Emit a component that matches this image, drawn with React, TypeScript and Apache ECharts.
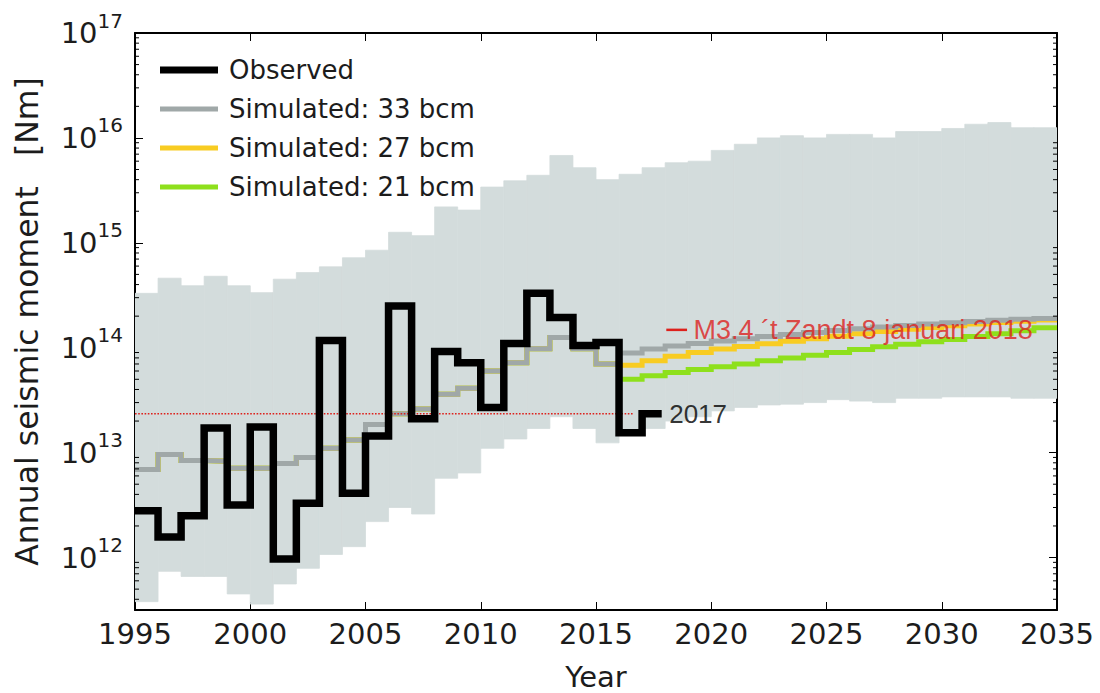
import React, { useEffect, useRef } from 'react';
import * as echarts from 'echarts';

// ---------- data ----------
const firstYear = 1995;
const lastYear = 2035;
const xTickStep = 5;

// envelope of the simulations, one value per yearly bin 1995..2034
const bandLower = [
  3.8e11, 7.4e11, 6.6e11, 6.6e11, 4.5e11, 3.6e11, 5.6e11, 7.9e11, 1.07e12, 1.27e12,
  2.2e12, 3.0e12, 2.6e12, 5.7e12, 6.4e12, 1.1e13, 1.35e13, 1.7e13, 2.2e13, 1.7e13,
  1.24e13, 1.5e13, 1.7e13, 2.0e13, 2.2e13, 2.5e13, 2.7e13, 2.85e13, 2.9e13, 3.0e13,
  3.2e13, 3.1e13, 3.0e13, 3.3e13, 3.3e13, 3.4e13, 3.4e13, 3.4e13, 3.3e13, 3.3e13,
];
const bandUpper = [
  3.3e14, 4.6e14, 3.9e14, 4.8e14, 3.9e14, 3.35e14, 4.5e14, 5.2e14, 5.9e14, 7.2e14,
  8.5e14, 1.26e15, 1.17e15, 2.2e15, 2.05e15, 3.4e15, 3.9e15, 4.4e15, 6.8e15, 5.2e15,
  4.0e15, 4.5e15, 5.2e15, 5.8e15, 6.0e15, 7.6e15, 8.7e15, 1.0e16, 1.05e16, 1.0e16,
  1.08e16, 1.08e16, 1.0e16, 1.15e16, 1.15e16, 1.23e16, 1.35e16, 1.4e16, 1.25e16, 1.25e16,
];

// observed annual seismic moment, bins 1995..2017
const observed = [
  2.8e12, 1.57e12, 2.5e12, 1.72e13, 3.16e12, 1.76e13, 9.7e11, 3.3e12, 1.17e14, 4.1e12,
  1.44e13, 2.5e14, 2.1e13, 9.2e13, 7.2e13, 2.7e13, 1.1e14, 3.3e14, 1.94e14, 1.05e14,
  1.12e14, 1.55e13, 2.35e13,
];
const observedEnd = 2017.85;
const observedEndLabel = '2017';

// simulated 33 bcm, bins 1995..2034
const sim33 = [
  6.9e12, 9.6e12, 8.4e12, 8.3e12, 7.1e12, 7.1e12, 7.9e12, 9.0e12, 1.1e13, 1.32e13,
  1.85e13, 2.35e13, 2.6e13, 3.6e13, 4.1e13, 6.0e13, 7.2e13, 9.8e13, 1.25e14, 9.8e13,
  7.0e13, 8.9e13, 9.7e13, 1.04e14, 1.1e14, 1.16e14, 1.22e14, 1.28e14, 1.34e14, 1.4e14,
  1.46e14, 1.52e14, 1.58e14, 1.63e14, 1.68e14, 1.73e14, 1.78e14, 1.83e14, 1.87e14, 1.9e14,
];
const futureStart = 2016;
// simulated 27 and 21 bcm, bins 2016..2034 (before 2016 they follow the 33 bcm run)
const sim27Future = [
  6.8e13, 7.5e13, 8.3e13, 9.0e13, 9.7e13, 1.03e14, 1.09e14, 1.15e14, 1.22e14, 1.29e14,
  1.36e14, 1.43e14, 1.5e14, 1.56e14, 1.62e14, 1.68e14, 1.74e14, 1.79e14, 1.84e14,
];
const sim21Future = [
  5.0e13, 5.4e13, 5.8e13, 6.2e13, 6.6e13, 7.0e13, 7.5e13, 8.0e13, 8.5e13, 9.0e13,
  9.6e13, 1.02e14, 1.08e14, 1.14e14, 1.2e14, 1.28e14, 1.36e14, 1.45e14, 1.55e14,
];

// reference level (dotted red) and the 8 January 2018 event
const refLevel = 2.35e13;
const refLineEnd = 2016.65;
const quakeLevel = 1.48e14;
const quakeDashFrom = 2018.05;
const quakeDashTo = 2018.95;
const quakeText = 'M3.4 \u00B4t Zandt 8 januari 2018';

const seriesNames = ['Observed', 'Simulated: 33 bcm', 'Simulated: 27 bcm', 'Simulated: 21 bcm'];

// ---------- styling ----------
const axisFont = 'DejaVu Sans';
const noteFont = 'Liberation Sans';
const textColor = '#1c1c1c';
const bandColor = '#d3dcdc';
const grayColor = '#a0a8a8';
const yellowColor = '#f8cc22';
const greenColor = '#8ee01c';
const redColor = '#dd211c';

const yMin = Math.pow(10, 11.5);
const yMax = 1e17;

// legend bar icons (bar centred in a 58x14 box)
const thickBar = 'path://M0,0L58,0M0,3.5L58,3.5L58,10.5L0,10.5ZM0,14L58,14';
const thinBar = 'path://M0,0L58,0M0,4.5L58,4.5L58,9.5L0,9.5ZM0,14L58,14';

function stepPoints(start: number, values: number[], end?: number) {
  const pts: number[][] = [];
  values.forEach((v, i) => {
    const x0 = start + i;
    const x1 = i === values.length - 1 && end !== undefined ? end : x0 + 1;
    pts.push([x0, v], [x1, v]);
  });
  return pts;
}

const histLen = futureStart - firstYear;
const sim27 = sim33.slice(0, histLen).concat(sim27Future);
const sim21 = sim33.slice(0, histLen).concat(sim21Future);

const bandData = bandLower.map((lo, i) => [firstYear + i, lo, bandUpper[i]]);

// minor log ticks (axis furniture)
const minorTicks: number[] = [];
for (let e = 11; e <= 16; e++) {
  for (let k = 2; k <= 9; k++) {
    const v = k * Math.pow(10, e);
    if (v > yMin && v < yMax) minorTicks.push(v);
  }
}

function buildOption(): any {
  const xAxisBase = {
    type: 'value',
    min: firstYear,
    max: lastYear,
    interval: xTickStep,
    splitLine: { show: false },
    axisLine: { show: true, onZero: false, lineStyle: { color: '#000', width: 2 } },
    axisTick: { show: true, inside: true, length: 8, lineStyle: { color: '#000', width: 1 } },
  };
  const yAxisBase = {
    type: 'log',
    logBase: 10,
    min: yMin,
    max: yMax,
    splitLine: { show: false },
    axisLine: { show: true, onZero: false, lineStyle: { color: '#000', width: 2 } },
    axisTick: { show: true, inside: true, length: 8, lineStyle: { color: '#000', width: 1 } },
  };
  return {
    animation: false,
    backgroundColor: '#fff',
    grid: { left: 135, right: 43, top: 33, bottom: 83, containLabel: false, outerBoundsMode: 'none' },
    legend: {
      orient: 'vertical',
      left: 155,
      top: 51,
      itemWidth: 58,
      itemHeight: 14,
      itemGap: 11,
      selectedMode: false,
      itemStyle: { borderWidth: 0 },
      data: [
        { name: seriesNames[0], icon: thickBar, itemStyle: { color: '#000', borderWidth: 0 } },
        { name: seriesNames[1], icon: thinBar, itemStyle: { color: grayColor, borderWidth: 0 } },
        { name: seriesNames[2], icon: thinBar, itemStyle: { color: yellowColor, borderWidth: 0 } },
        { name: seriesNames[3], icon: thinBar, itemStyle: { color: greenColor, borderWidth: 0 } },
      ],
      textStyle: {
        fontFamily: axisFont,
        fontSize: 26,
        color: textColor,
        lineHeight: 28,
        padding: [0, 0, 0, 6],
      },
    },
    xAxis: [
      {
        ...xAxisBase,
        position: 'bottom',
        name: 'Year',
        nameLocation: 'middle',
        nameGap: 52,
        nameTextStyle: { fontFamily: axisFont, fontSize: 29, lineHeight: 30, color: textColor },
        axisLabel: {
          margin: 9,
          fontFamily: axisFont,
          fontSize: 29,
          color: textColor,
          formatter: (v: number) => String(v),
        },
      },
      {
        ...xAxisBase,
        position: 'top',
        axisLabel: { show: false },
      },
    ],
    yAxis: [
      {
        ...yAxisBase,
        position: 'left',
        name: 'Annual seismic moment   [Nm]',
        nameLocation: 'middle',
        nameGap: 92,
        nameTextStyle: { fontFamily: axisFont, fontSize: 31.5, color: textColor },
        axisLabel: {
          margin: 12,
          showMinLabel: false,
          color: textColor,
          formatter: (v: number) => '{b|10}{s|' + Math.round(Math.log10(v)) + '}',
          rich: {
            b: { fontFamily: axisFont, fontSize: 29, color: textColor, lineHeight: 45 },
            s: { fontFamily: axisFont, fontSize: 20, color: textColor, lineHeight: 20, verticalAlign: 'top' },
          },
        },
      },
      {
        ...yAxisBase,
        position: 'right',
        axisLabel: { show: false },
      },
    ],
    series: [
      {
        type: 'custom',
        name: 'envelope',
        silent: true,
        clip: true,
        z: 1,
        data: bandData,
        encode: { x: 0, y: [1, 2] },
        renderItem: (params: any, api: any) => {
          const x = api.value(0);
          const lo = api.value(1);
          const hi = api.value(2);
          const a = api.coord([x, hi]);
          const b = api.coord([x + 1, lo]);
          return {
            type: 'rect',
            shape: { x: a[0], y: a[1], width: b[0] - a[0], height: b[1] - a[1] },
            style: { fill: bandColor, stroke: bandColor, lineWidth: 0.8 },
          };
        },
      },
      {
        type: 'custom',
        name: 'minorTicks',
        silent: true,
        z: 10,
        data: minorTicks.map((v) => [firstYear, v]),
        encode: { x: 0, y: 1 },
        renderItem: (params: any, api: any) => {
          const v = api.value(1);
          const l = api.coord([firstYear, v]);
          const r = api.coord([lastYear, v]);
          return {
            type: 'group',
            children: [
              { type: 'line', shape: { x1: l[0], y1: l[1], x2: l[0] + 4, y2: l[1] }, style: { stroke: '#000', lineWidth: 1 } },
              { type: 'line', shape: { x1: r[0] - 4, y1: r[1], x2: r[0], y2: r[1] }, style: { stroke: '#000', lineWidth: 1 } },
            ],
          };
        },
      },
      {
        type: 'line',
        name: seriesNames[3],
        data: stepPoints(firstYear, sim21),
        showSymbol: false,
        symbol: 'none',
        z: 3,
        lineStyle: { color: greenColor, width: 5, join: 'miter', cap: 'butt' },
        itemStyle: { color: greenColor },
      },
      {
        type: 'line',
        name: seriesNames[2],
        data: stepPoints(firstYear, sim27),
        showSymbol: false,
        symbol: 'none',
        z: 4,
        lineStyle: { color: yellowColor, width: 5, join: 'miter', cap: 'butt' },
        itemStyle: { color: yellowColor },
      },
      {
        type: 'line',
        name: seriesNames[1],
        data: stepPoints(firstYear, sim33),
        showSymbol: false,
        symbol: 'none',
        z: 5,
        lineStyle: { color: grayColor, width: 5, join: 'miter', cap: 'butt' },
        itemStyle: { color: grayColor },
      },
      {
        type: 'line',
        name: 'reference level',
        data: [[firstYear, refLevel], [refLineEnd, refLevel]],
        showSymbol: false,
        symbol: 'none',
        silent: true,
        z: 6,
        lineStyle: { color: redColor, width: 1.6, type: 'dotted' },
      },
      {
        type: 'line',
        name: seriesNames[0],
        data: stepPoints(firstYear, observed, observedEnd),
        showSymbol: false,
        symbol: 'none',
        z: 7,
        lineStyle: { color: '#000', width: 7.5, join: 'miter', cap: 'butt' },
        itemStyle: { color: '#000' },
      },
      {
        type: 'scatter',
        name: 'end label',
        silent: true,
        z: 8,
        symbolSize: 1,
        itemStyle: { color: 'rgba(0,0,0,0)' },
        data: [[observedEnd, observed[observed.length - 1]]],
        label: {
          show: true,
          position: 'right',
          distance: 7,
          formatter: observedEndLabel,
          fontFamily: noteFont,
          fontSize: 26,
          color: '#000',
        },
      },
      {
        type: 'line',
        name: 'event dash',
        data: [[quakeDashFrom, quakeLevel], [quakeDashTo, quakeLevel]],
        showSymbol: false,
        symbol: 'none',
        silent: true,
        z: 8,
        lineStyle: { color: redColor, width: 2.5, cap: 'butt' },
      },
      {
        type: 'scatter',
        name: 'event label',
        silent: true,
        z: 9,
        symbolSize: 1,
        itemStyle: { color: 'rgba(0,0,0,0)' },
        data: [[quakeDashTo, quakeLevel]],
        label: {
          show: true,
          position: 'right',
          distance: 6,
          formatter: quakeText,
          fontFamily: noteFont,
          fontSize: 27,
          color: redColor,
        },
      },
    ],
  };
}

export default function App() {
  const ref = useRef<HTMLDivElement>(null);
  useEffect(() => {
    if (!ref.current) return;
    const chart = echarts.init(ref.current, undefined, { renderer: 'svg' });
    chart.setOption(buildOption());
    return () => {
      chart.dispose();
    };
  }, []);
  return (
    <div
      ref={ref}
      style={{ position: 'fixed', left: 0, top: 0, width: 1100, height: 693, background: '#fff' }}
    />
  );
}
